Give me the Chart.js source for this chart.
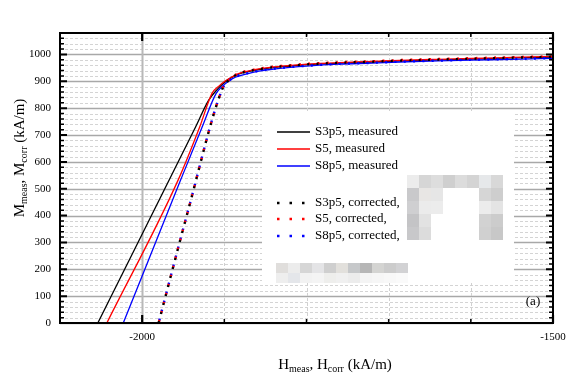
<!DOCTYPE html>
<html>
<head>
<meta charset="utf-8">
<script src="https://cdn.jsdelivr.net/npm/chart.js@4"></script>
<style>
  html, body { margin: 0; background: #fff; }
  #wrap { width: 575px; height: 378px; }
</style>
</head>
<body>
<div id="wrap"><canvas id="chart"></canvas></div>
<script>
// H (kA/m) and M (kA/m)
const hS3p5Meas = [-2054, -1935, -1919, -1908, -1901, -1892, -1882, -1870, -1856, -1842, -1820, -1800, -1760, -1720, -1687, -1640, -1600, -1550, -1500];
const mS3p5Meas = [0, 730, 830, 872, 893, 913, 928, 937, 945, 951, 957, 962, 968, 972, 976, 980, 983, 987, 990];
const hS5Meas = [-2043, -1956, -1930, -1915, -1906, -1899, -1891, -1882, -1870, -1856, -1842, -1820, -1800, -1760, -1720, -1687, -1640, -1600, -1550, -1500];
const mS5Meas = [0, 534, 730, 855, 884, 901, 916, 930, 939, 947, 953, 959, 964, 970, 974, 978, 982, 985, 989, 993];
const hS8p5Meas = [-2023, -1953, -1927, -1910, -1903, -1897, -1890, -1882, -1870, -1856, -1842, -1820, -1800, -1760, -1720, -1687, -1640, -1600, -1550, -1500];
const mS8p5Meas = [0, 534, 730, 855, 880, 896, 910, 920, 930, 939, 945, 952, 957, 964, 968, 972, 976, 979, 982, 986];

const hCorr = [-1980, -1944, -1902, -1896, -1890, -1882, -1870, -1856, -1842, -1820, -1800, -1760, -1720, -1687, -1640, -1600, -1550, -1500];
const mS3p5Corr = [0, 420, 875, 900, 916, 929, 938, 946, 952, 958, 963, 969, 973, 977, 981, 984, 988, 991];
const mS5Corr = [0, 420, 876, 901, 917, 931, 940, 948, 954, 960, 965, 971, 975, 979, 983, 986, 990, 993];
const mS8p5Corr = [0, 420, 874, 898, 912, 922, 931, 940, 946, 953, 958, 965, 969, 973, 977, 980, 983, 987];

const seriesLabels = ["S3p5, measured", "S5, measured", "S8p5, measured",
                      "S3p5, corrected,", "S5, corrected,", "S8p5, corrected,"];
const xTickLabels = [-2000, -1500];

const SERIF = '"Liberation Serif", "DejaVu Serif", serif';
const pts = (hs, ms) => hs.map((h, i) => ({ x: h, y: ms[i] }));

function measured(label, h, m, color, order) {
  return { label, data: pts(h, m), borderColor: color, borderWidth: 1.3,
           pointRadius: 0, cubicInterpolationMode: "monotone", order };
}
function corrected(label, h, m, color, offset, order) {
  return { label, data: pts(h, m), borderColor: color, borderWidth: 2.4,
           borderDash: [2, 7.3], borderDashOffset: offset,
           pointRadius: 0, cubicInterpolationMode: "monotone", order };
}

// rich text with subscripts, centred on (cx, cy)
function drawRich(ctx, parts, cx, cy, rot) {
  const big = "15px " + SERIF, small = "10px " + SERIF;
  let w = 0;
  parts.forEach(p => { ctx.font = p.sub ? small : big; w += ctx.measureText(p.t).width; });
  ctx.save();
  ctx.translate(cx, cy);
  if (rot) ctx.rotate(-Math.PI / 2);
  ctx.fillStyle = "#000";
  ctx.textBaseline = "middle";
  ctx.textAlign = "left";
  let x = -w / 2;
  parts.forEach(p => {
    ctx.font = p.sub ? small : big;
    ctx.fillText(p.t, x, p.sub ? 4 : 0);
    x += ctx.measureText(p.t).width;
  });
  ctx.restore();
}

// pixelated patches that hide part of the legend text
function drawMosaic(ctx) {
  const a = [
    ["#ececec", "#d6d6d6", "#dddddd", "#cfcfcf", "#dcdcdc", "#d4d4d4", "#e6e8ea", "#d8d8d8"],
    ["#c9c9cb", "#e8e6e4", "#e6e6e6", null, null, null, "#d6d6d6", "#cecece"],
    ["#cfcfd1", "#ebebeb", "#ececec", null, null, null, "#ececec", "#e4e4e4"],
    ["#c4c4c6", "#e2e2e2", null, null, null, null, "#d2d2d2", "#cccccc"],
    ["#c8c8ca", "#dcdcdc", null, null, null, null, "#d0d0d0", "#c8c8c8"]
  ];
  a.forEach((row, r) => row.forEach((c, k) => {
    if (!c) return;
    ctx.fillStyle = c; ctx.fillRect(407 + k * 12, 175 + r * 13, 12, 13);
  }));
  const b = [
    ["#e0dedc", "#ececec", "#d6d6d6", "#e4e4e6", "#cfcfcf", "#e2e0dc", "#c6c8ca", "#b6b6b6", "#d4d4d2", "#cccccc", "#d2d2d4"],
    ["#eeeeee", "#e4e6ea", "#f2f2f2", "#f4f4f4", "#eeeeec", "#f0f0f0", "#ececec", "#f4f4f4", "#f6f6f6", "#f8f8f8", "#fafafa"]
  ];
  b.forEach((row, r) => row.forEach((c, k) => {
    ctx.fillStyle = c; ctx.fillRect(276 + k * 12, 263 + r * 10, 12, 10);
  }));
}

const framePlugin = {
  id: "frame",
  beforeDatasetsDraw(chart) {
    const { ctx, chartArea: a, scales: { x, y } } = chart;
    ctx.save();
    for (let v = y.min; v <= y.max; v += 20) {
      const py = Math.round(y.getPixelForValue(v)) + 0.5;
      const major = v % 100 === 0;
      ctx.beginPath();
      ctx.setLineDash(major ? [] : [3, 2]);
      ctx.strokeStyle = major ? "#a8a8a8" : "#d4d4d4";
      ctx.lineWidth = major ? 1.6 : 1;
      ctx.moveTo(a.left, py); ctx.lineTo(a.right, py); ctx.stroke();
    }
    for (let v = x.min + 100; v < x.max; v += 100) {
      const px = Math.round(x.getPixelForValue(v)) + 0.5;
      const major = v % 500 === 0;
      ctx.beginPath();
      ctx.setLineDash(major ? [] : [3, 2]);
      ctx.strokeStyle = major ? "#b8b8b8" : "#d0d0d0";
      ctx.lineWidth = major ? 2 : 1;
      ctx.moveTo(px, a.top); ctx.lineTo(px, a.bottom); ctx.stroke();
    }
    ctx.restore();
  },
  afterDatasetsDraw(chart) {
    const { ctx, chartArea: a, scales: { x, y } } = chart;
    const sets = chart.data.datasets;
    ctx.save();

    // legend
    ctx.fillStyle = "#fff";
    ctx.fillRect(262, 112, 252, 170);
    const rowsY = [132, 149, 166, 203, 219, 236];
    ctx.font = "13px " + SERIF;
    ctx.textBaseline = "middle";
    rowsY.forEach((ry, i) => {
      const ds = sets[i];
      ctx.beginPath();
      ctx.strokeStyle = ds.borderColor;
      if (ds.borderDash) { ctx.setLineDash([2.5, 10]); ctx.lineWidth = 2.5; }
      else { ctx.setLineDash([]); ctx.lineWidth = 1.4; }
      ctx.moveTo(277, ry); ctx.lineTo(310, ry); ctx.stroke();
      ctx.fillStyle = "#000";
      ctx.fillText(ds.label, 315, ry);
    });
    ctx.setLineDash([]);
    drawMosaic(ctx);

    // frame and inside ticks
    ctx.strokeStyle = "#000";
    for (let v = y.min; v <= y.max; v += 20) {
      const py = y.getPixelForValue(v);
      const major = v % 100 === 0, len = major ? 7 : 4;
      ctx.lineWidth = major ? 2 : 1.5;
      ctx.beginPath();
      ctx.moveTo(a.left, py); ctx.lineTo(a.left + len, py);
      ctx.moveTo(a.right, py); ctx.lineTo(a.right - len, py);
      ctx.stroke();
    }
    for (let v = x.min; v <= x.max; v += 100) {
      const px = x.getPixelForValue(v);
      const major = v % 500 === 0, len = major ? 8 : 4;
      ctx.lineWidth = major ? 2.2 : 1.5;
      ctx.beginPath();
      ctx.moveTo(px, a.bottom); ctx.lineTo(px, a.bottom - len);
      ctx.moveTo(px, a.top); ctx.lineTo(px, a.top + len);
      ctx.stroke();
    }
    ctx.lineWidth = 2;
    ctx.strokeRect(a.left, a.top, a.right - a.left, a.bottom - a.top);

    ctx.fillStyle = "#000";
    ctx.font = "13px " + SERIF;
    ctx.textAlign = "center";
    ctx.fillText("(a)", 533, 302);
    ctx.restore();

    drawRich(ctx, [{ t: "H" }, { t: "meas", sub: true }, { t: ", H" }, { t: "corr", sub: true }, { t: " (kA/m)" }], 335, 365, false);
    drawRich(ctx, [{ t: "M" }, { t: "meas", sub: true }, { t: ", M" }, { t: "corr", sub: true }, { t: " (kA/m)" }], 20, 158, true);
  }
};

new Chart(document.getElementById("chart"), {
  type: "line",
  data: {
    datasets: [
      measured(seriesLabels[0], hS3p5Meas, mS3p5Meas, "#000000", 6),
      measured(seriesLabels[1], hS5Meas, mS5Meas, "#ff0000", 5),
      measured(seriesLabels[2], hS8p5Meas, mS8p5Meas, "#0000ff", 4),
      corrected(seriesLabels[3], hCorr, mS3p5Corr, "#000000", 0, 1),
      corrected(seriesLabels[4], hCorr, mS5Corr, "#ff0000", -1.3, 2),
      corrected(seriesLabels[5], hCorr, mS8p5Corr, "#0000ff", -2.6, 3)
    ]
  },
  options: {
    responsive: true,
    maintainAspectRatio: false,
    animation: false,
    layout: { padding: { left: 0, right: 22, top: 33, bottom: 0 } },
    plugins: { legend: { display: false }, tooltip: { enabled: false } },
    scales: {
      x: {
        type: "linear", min: -2100, max: -1500,
        grid: { display: false, drawTicks: false, tickLength: 0 }, border: { display: false },
        ticks: {
          stepSize: 100, autoSkip: false, maxRotation: 0, padding: 8,
          color: "#000", font: { family: SERIF, size: 11 },
          callback: v => xTickLabels.includes(v) ? String(v) : ""
        },
        afterFit: s => { s.height = 55; }
      },
      y: {
        type: "linear", min: 0, max: 1080,
        grid: { display: false, drawTicks: false, tickLength: 0 }, border: { display: false },
        ticks: {
          stepSize: 100, padding: 9,
          color: "#000", font: { family: SERIF, size: 11 },
          callback: v => v % 100 === 0 ? String(v) : ""
        },
        afterFit: s => { s.width = 60; }
      }
    }
  },
  plugins: [framePlugin]
});
</script>
</body>
</html>
